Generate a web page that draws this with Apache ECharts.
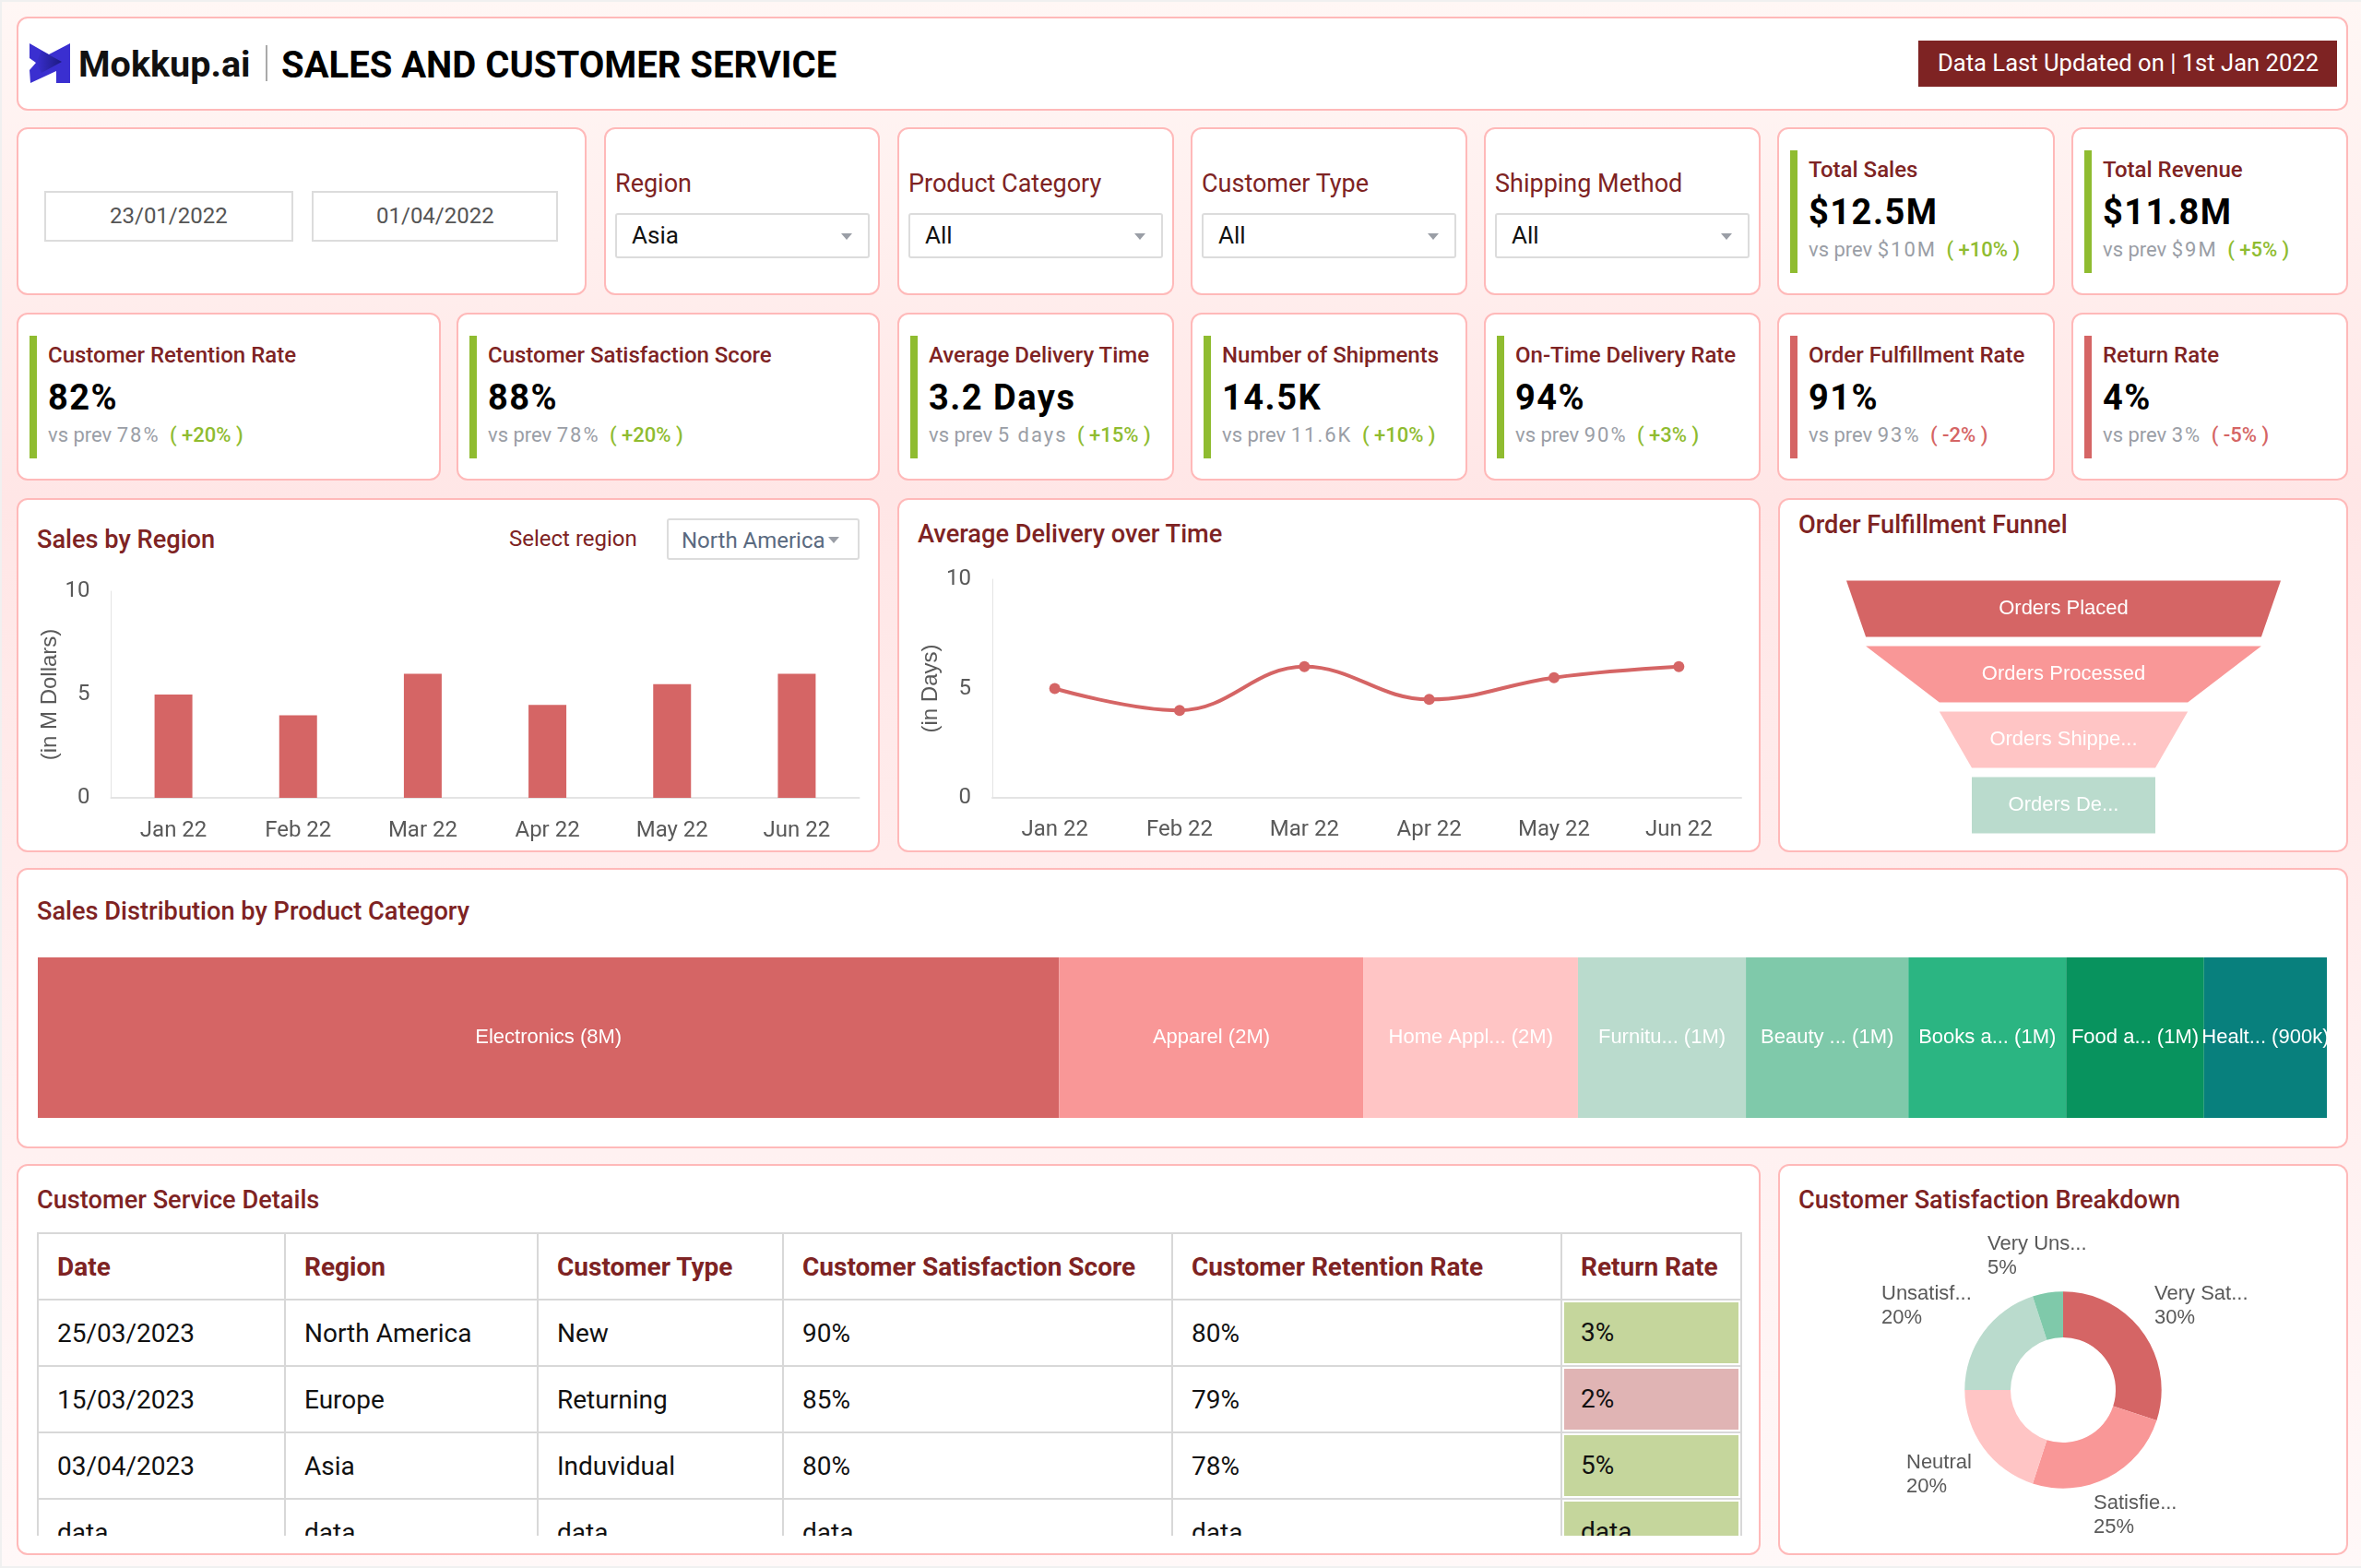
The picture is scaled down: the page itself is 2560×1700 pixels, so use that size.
<!DOCTYPE html>
<html>
<head>
<meta charset="utf-8">
<title>Sales and Customer Service</title>
<script src="https://cdn.jsdelivr.net/npm/echarts@6/dist/echarts.min.js"></script>
<style>
html, body { margin: 0; padding: 0; width: 2560px; height: 1700px; overflow: hidden; background: #f0f0f0; font-family: Roboto, sans-serif; }
#bg { position: absolute; left: 2px; top: 2px; width: 2558px; height: 1696px; background: linear-gradient(180deg, #fff7f5 0, #ffe6e6 540px, #fff8f8 1696px); }
.box { position: absolute; box-sizing: border-box; }
.card { background: #fff; border: 2px solid #ffb9b9; border-radius: 12px; }
.txt { position: absolute; white-space: nowrap; transform: translateY(-50%); line-height: 1.2; }
.head { font-size: 27.2px; font-weight: 500; color: #7e2323; }
.label { font-size: 27px; color: #7e2323; }
.kpi-title { font-size: 24px; font-weight: 500; color: #7e2323; }
.kpi-value { font-size: 38px; font-weight: 700; color: #000; letter-spacing: 1.5px; }
.kpi-sub { font-size: 22px; color: #9a9ea6; }
.kpi-sub .num { letter-spacing: 2px; }
.kpi-sub .chg { font-weight: 500; margin-left: 5px; }
.input { border: 2px solid #dcdcdc; background: #fff; }
.select { border: 2px solid #dcdcdc; border-radius: 3px; background: #fff; }
.arrow { position: absolute; width: 0; height: 0; border-left: 6px solid transparent; border-right: 6px solid transparent; border-top: 7px solid #9a9ea6; }
#table-wrap { position: absolute; left: 40px; top: 1336px; width: 1850px; height: 329px; overflow: hidden; }
table { border-collapse: collapse; table-layout: fixed; width: 1847px; font-size: 28px; color: #111; }
td, th { border: 2px solid #d8d8d8; height: 72px; padding: 0 0 0 20px; box-sizing: border-box; text-align: left; }
th { color: #7e2323; font-weight: 700; font-size: 28px; }
td.flag { background-clip: padding-box; border: 2px solid #d8d8d8; position: relative; padding: 0; }
td.flag div { position: absolute; left: 2px; right: 2px; top: 2px; bottom: 2px; padding-left: 18px; line-height: 66px; }
</style>
</head>
<body>
<div id="bg"></div>
<script>
var months = ["Jan 22", "Feb 22", "Mar 22", "Apr 22", "May 22", "Jun 22"];
var salesValues = [5, 4, 6, 4.5, 5.5, 6];
var deliveryValues = [5, 4, 6, 4.5, 5.5, 6];

var funnelNames = ["Orders Placed", "Orders Processed", "Orders Shippe...", "Orders De..."];
var funnelValues = [100, 91, 57, 42];

var categoryNames = ["Electronics", "Apparel", "Home Appl...", "Furnitu...", "Beauty ...", "Books a...", "Food a...", "Healt..."];
var categoryValues = [7.48, 2.23, 1.57, 1.23, 1.19, 1.155, 1.01, 0.9];
var categoryText = ["8M", "2M", "2M", "1M", "1M", "1M", "1M", "900k"];

var satisfactionNames = ["Very Sat...", "Satisfie...", "Neutral", "Unsatisf...", "Very Uns..."];
var satisfactionValues = [30, 25, 20, 20, 5];

var filterNames = ["Region", "Product Category", "Customer Type", "Shipping Method"];
var filterValues = ["Asia", "All", "All", "All"];

var kpiTitles = ["Total Sales", "Total Revenue", "Customer Retention Rate", "Customer Satisfaction Score", "Average Delivery Time", "Number of Shipments", "On-Time Delivery Rate", "Order Fulfillment Rate", "Return Rate"];
var kpiValues = ["$12.5M", "$11.8M", "82%", "88%", "3.2 Days", "14.5K", "94%", "91%", "4%"];
var kpiPrev = ["$10M", "$9M", "78%", "78%", "5 days", "11.6K", "90%", "93%", "3%"];
var kpiChange = ["+10%", "+5%", "+20%", "+20%", "+15%", "+10%", "+3%", "-2%", "-5%"];
var kpiGood = [true, true, true, true, true, true, true, false, false];

var tableHeader = ["Date", "Region", "Customer Type", "Customer Satisfaction Score", "Customer Retention Rate", "Return Rate"];
var tableRows = [
	["25/03/2023", "North America", "New", "90%", "80%", "3%"],
	["15/03/2023", "Europe", "Returning", "85%", "79%", "2%"],
	["03/04/2023", "Asia", "Induvidual", "80%", "78%", "5%"],
	["data", "data", "data", "data", "data", "data"]
];
var returnFlags = ["#c5d69c", "#e0b4b4", "#c5d69c", "#c5d69c"];

var RED = "#d56565";
var PALETTE = ["#d56565", "#f99797", "#ffc5c5", "#badbcd", "#7fc9aa", "#2bb582", "#08935e", "#08807d"];
var GREY = "#595959";
var ARIAL = "'Liberation Sans', Arial, sans-serif";
var GREEN = "#8fbc30";

function addBox(cls, x, y, w, h, parent) {
	var el = document.createElement("div");
	el.className = "box " + cls;
	el.style.left = x + "px";
	el.style.top = y + "px";
	el.style.width = w + "px";
	el.style.height = h + "px";
	(parent || document.body).appendChild(el);
	return el;
}

// cards sit one pixel wider than their measured inside on every side
function addCard(x, y, w, h) {
	return addBox("card", x - 1, y - 1, w + 2, h + 2);
}

function addText(cls, x, cy, html, style) {
	var el = document.createElement("div");
	el.className = "txt " + cls;
	el.style.left = x + "px";
	el.style.top = cy + "px";
	el.innerHTML = html;
	if (style) {
		el.style.cssText += ";" + style;
	}
	document.body.appendChild(el);
	return el;
}

function addArrow(x, y) {
	var arrow = document.createElement("div");
	arrow.className = "arrow";
	arrow.style.left = (x - 6) + "px";
	arrow.style.top = y + "px";
	document.body.appendChild(arrow);
}

function addSelect(x, y, w, h, text, textX, arrowX) {
	addBox("select", x, y, w, h);
	addText("", textX, y + h / 2, text, "font-size:26px;color:#111");
	addArrow(arrowX, y + h / 2 - 3);
}

function addKpi(i, x, y, w) {
	var color = kpiGood[i] ? GREEN : RED;
	addCard(x, y, w, 180);
	addBox("", x + 13, y + 24, 8, 133).style.background = color;
	addText("kpi-title", x + 33, y + 45, kpiTitles[i]);
	addText("kpi-value", x + 33, y + 91.5, kpiValues[i]);
	addText("kpi-sub", x + 33, y + 132, "vs prev <span class='num'>" + kpiPrev[i] + "</span>"
		+ " <span class='chg' style='color:" + color + "'>( " + kpiChange[i] + " )</span>");
}

function addLogo() {
	var wrap = document.createElement("div");
	wrap.className = "box";
	wrap.style.left = "30px";
	wrap.style.top = "46px";
	wrap.innerHTML = "<svg width='48' height='46' viewBox='30 46 48 46'>"
		+ "<defs><linearGradient id='logo-tip' x1='0' x2='1' y1='0' y2='0'>"
		+ "<stop offset='0' stop-color='#3a2fd0'/><stop offset='1' stop-color='#1c1a80'/></linearGradient></defs>"
		+ "<polygon points='32,47 53,59 76,47 76,90 61,90 61,77 33,90 32,76 39,68 32,63' fill='#3a2fd0'/>"
		+ "<polygon points='39,68 45,55 67,67 45,79' fill='url(#logo-tip)'/>"
		+ "</svg>";
	document.body.appendChild(wrap);
}

function buildHeader() {
	addCard(19, 19, 2526, 100);
	addLogo();
	addText("", 85, 70, "Mokkup.ai", "font-size:39.5px;font-weight:700;color:#111");
	addBox("", 288, 49, 2, 39).style.background = "#aaa";
	addText("", 305, 71, "SALES AND CUSTOMER SERVICE", "font-size:40px;font-weight:700;color:#000");
	addBox("", 2080, 44, 454, 50).style.background = "#7e2323";
	addText("", 2101, 68, "Data Last Updated on | 1st Jan 2022", "font-size:25.6px;color:#fff");
}

function buildFilters() {
	addCard(19, 139, 616, 180);
	addBox("input", 48, 207, 270, 55);
	addBox("input", 338, 207, 267, 55);
	addText("", 119, 234, "23/01/2022", "font-size:24px;color:#555");
	addText("", 408, 234, "01/04/2022", "font-size:24px;color:#555");
	var cardX = [656, 974, 1292, 1610];
	for (var i = 0; i < filterNames.length; i++) {
		var x = cardX[i];
		addCard(x, 139, i == 0 ? 297 : 298, 180);
		addText("label", x + 11, 199, filterNames[i]);
		addSelect(x + 11, 231, 276, 49, filterValues[i], x + 29, x + 262);
	}
}

function buildKpis() {
	addKpi(0, 1928, 139, 299);
	addKpi(1, 2247, 139, 298);
	addKpi(2, 19, 340, 458);
	addKpi(3, 496, 340, 457);
	addKpi(4, 974, 340, 298);
	addKpi(5, 1292, 340, 298);
	addKpi(6, 1610, 340, 298);
	addKpi(7, 1928, 340, 299);
	addKpi(8, 2247, 340, 298);
}

function buildPanels() {
	addCard(19, 541, 934, 382);
	addText("head", 40, 585, "Sales by Region");
	addText("", 552, 584, "Select region", "font-size:24px;color:#7e2323");
	addBox("select", 723, 562, 209, 45);
	addText("", 739, 586, "North America", "font-size:24px;color:#5a6a80");
	addArrow(904, 582);

	addCard(974, 541, 934, 382);
	addText("head", 995, 579, "Average Delivery over Time");
	addCard(1929, 541, 616, 382);
	addText("head", 1950, 569, "Order Fulfillment Funnel");
	addCard(19, 942, 2526, 302);
	addText("head", 40, 988, "Sales Distribution by Product Category");
	addCard(19, 1263, 1889, 422);
	addText("head", 40, 1301, "Customer Service Details");
	addCard(1929, 1263, 616, 422);
	addText("head", 1950, 1301, "Customer Satisfaction Breakdown");
}

function buildTable() {
	var widths = [268, 274, 266, 422, 422, 195];
	var html = "<table><colgroup>";
	for (var c = 0; c < widths.length; c++) {
		html += "<col style='width:" + widths[c] + "px'>";
	}
	html += "</colgroup><tr>";
	for (var h = 0; h < tableHeader.length; h++) {
		html += "<th>" + tableHeader[h] + "</th>";
	}
	html += "</tr>";
	for (var r = 0; r < tableRows.length; r++) {
		html += "<tr>";
		for (var k = 0; k < tableRows[r].length; k++) {
			if (k == tableRows[r].length - 1) {
				html += "<td class='flag'><div style='background:" + returnFlags[r] + "'>" + tableRows[r][k] + "</div></td>";
			} else {
				html += "<td>" + tableRows[r][k] + "</td>";
			}
		}
		html += "</tr>";
	}
	html += "</table>";
	var wrap = document.createElement("div");
	wrap.id = "table-wrap";
	wrap.innerHTML = html;
	document.body.appendChild(wrap);
}

function axisOption(name, gap) {
	return {
		type: "value",
		min: 0,
		max: 10,
		interval: 5,
		name: name,
		nameLocation: "middle",
		nameGap: gap,
		nameMoveOverlap: false,
		nameRotate: 90,
		nameTextStyle: { color: GREY, fontFamily: ARIAL, fontSize: 24 },
		axisLine: { show: true, lineStyle: { color: "#e4e4e4", width: 1 } },
		axisTick: { show: false },
		splitLine: { show: false },
		axisLabel: { color: GREY, fontFamily: "Roboto", fontSize: 24, margin: 23, padding: [3, 0, 0, 0] }
	};
}

function monthAxis(margin) {
	return {
		type: "category",
		data: months,
		axisLine: { lineStyle: { color: "#e4e4e4", width: 2 } },
		axisTick: { show: false },
		axisLabel: { color: GREY, fontFamily: "Roboto", fontSize: 24, margin: margin }
	};
}

function drawBar() {
	var chart = echarts.init(addBox("", 22, 610, 925, 310));
	chart.setOption({
		animation: false,
		grid: { left: 98.5, top: 31, width: 811, height: 224 },
		xAxis: monthAxis(24),
		yAxis: axisOption("(in M Dollars)", 54),
		series: [{ type: "bar", data: salesValues, barWidth: 41, itemStyle: { color: RED } }]
	});
}

function drawLine() {
	var chart = echarts.init(addBox("", 976, 597, 930, 323));
	chart.setOption({
		animation: false,
		grid: { left: 100, top: 31, width: 812, height: 237 },
		xAxis: monthAxis(23),
		yAxis: axisOption("(in Days)", 55),
		series: [{
			type: "line",
			data: deliveryValues,
			smooth: 0.4,
			symbol: "circle",
			symbolSize: 12,
			lineStyle: { color: RED, width: 4 },
			itemStyle: { color: RED }
		}]
	});
}

function drawFunnel() {
	var chart = echarts.init(addBox("", 1932, 620, 610, 290));
	var items = [];
	for (var i = 0; i < funnelNames.length; i++) {
		items.push({ name: funnelNames[i], value: funnelValues[i], itemStyle: { color: PALETTE[i] } });
	}
	chart.setOption({
		animation: false,
		series: [{
			type: "funnel",
			left: 70,
			top: 9.5,
			width: 471,
			height: 274,
			gap: 10,
			sort: "none",
			min: funnelValues[3],
			max: funnelValues[0],
			minSize: 199,
			maxSize: 471,
			label: { position: "inside", color: "#fff", fontFamily: ARIAL, fontSize: 22 },
			labelLine: { show: false },
			itemStyle: { borderWidth: 0 },
			data: items
		}]
	});
}

function drawStrip() {
	var chart = echarts.init(addBox("", 41, 1038, 2482, 174));
	var total = 0;
	var series = [];
	for (var i = 0; i < categoryNames.length; i++) {
		total += categoryValues[i];
		series.push({
			type: "bar",
			name: categoryNames[i],
			stack: "sales",
			barWidth: "100%",
			data: [categoryValues[i]],
			itemStyle: { color: PALETTE[i] },
			label: {
				show: true,
				position: "inside",
				color: "#fff",
				fontFamily: ARIAL,
				fontSize: 22,
				formatter: categoryNames[i] + " (" + categoryText[i] + ")"
			}
		});
	}
	chart.setOption({
		animation: false,
		grid: { left: 0, right: 0, top: 0, bottom: 0 },
		xAxis: { type: "value", min: 0, max: total, show: false },
		yAxis: { type: "category", data: ["Sales"], show: false },
		series: series
	});
}

function drawDonut() {
	var chart = echarts.init(addBox("", 1932, 1320, 610, 360));
	var labelX = [404, 338, 135, 108, 223];
	var labelY = [95.5, 323, 279, 95.5, 42];
	var items = [];
	for (var i = 0; i < satisfactionNames.length; i++) {
		items.push({ name: satisfactionNames[i], value: satisfactionValues[i], itemStyle: { color: PALETTE[i] } });
	}
	chart.setOption({
		animation: false,
		series: [{
			type: "pie",
			center: [305, 187],
			radius: [57, 106.7],
			startAngle: 90,
			avoidLabelOverlap: false,
			label: { color: GREY, fontFamily: ARIAL, fontSize: 22, lineHeight: 26, formatter: "{b}\n{c}%" },
			labelLine: { show: false },
			labelLayout: function(params) {
				return { x: labelX[params.dataIndex], y: labelY[params.dataIndex], align: "left", verticalAlign: "middle" };
			},
			data: items
		}]
	});
}

buildHeader();
buildFilters();
buildKpis();
buildPanels();
buildTable();
drawBar();
drawLine();
drawFunnel();
drawStrip();
drawDonut();
</script>
</body>
</html>
